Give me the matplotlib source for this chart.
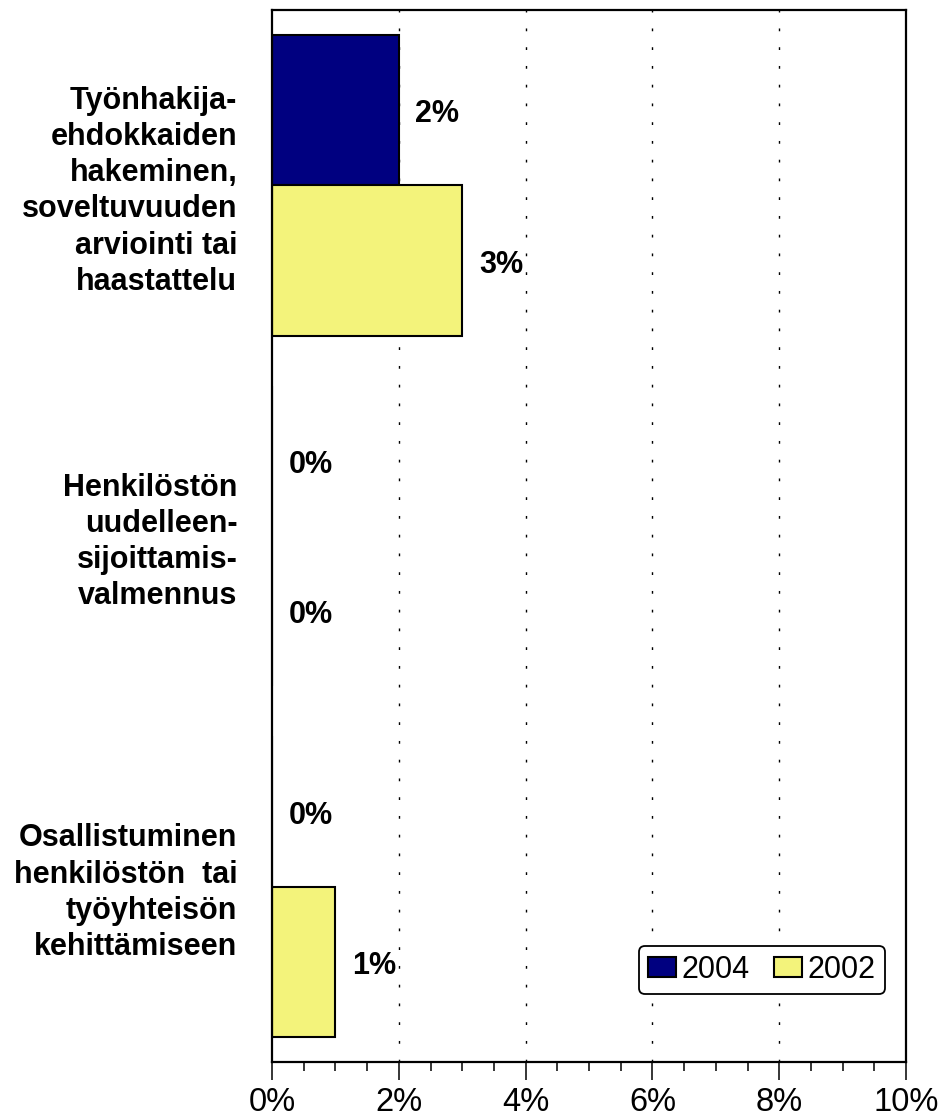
import matplotlib
matplotlib.use("Agg")
import matplotlib.pyplot as plt
import matplotlib.transforms as mtransforms
import numpy as np

plt.rcParams['font.family'] = ['Liberation Sans', 'DejaVu Sans']

# data
categories = [
    "Työnhakija-\nehdokkaiden\nhakeminen,\nsoveltuvuuden\narviointi tai\nhaastattelu",
    "Henkilöstön\nuudelleen-\nsijoittamis-\nvalmennus",
    "Osallistuminen\nhenkilöstön  tai\ntyöyhteisön\nkehittämiseen",
]
series_names = ["2004", "2002"]
values_2004 = [2, 0, 0]
values_2002 = [3, 0, 1]
x_ticks = [0, 2, 4, 6, 8, 10]
x_tick_labels = ["0%", "2%", "4%", "6%", "8%", "10%"]

NAVY = "#000080"
YELLOW = "#F3F37B"

fig = plt.figure(figsize=(9.4, 11.2), dpi=100)
ax = fig.add_axes([272 / 940, 1 - 1062 / 1120, 634 / 940, 1052 / 1120])

y = np.arange(len(categories))
h = 0.4286
b1 = ax.barh(y - h / 2, values_2004, height=h, color=NAVY, edgecolor="black",
             linewidth=1.5, label=series_names[0])
b2 = ax.barh(y + h / 2, values_2002, height=h, color=YELLOW, edgecolor="black",
             linewidth=1.5, label=series_names[1])

# value labels
for bars in (b1, b2):
    texts = ax.bar_label(bars, labels=[f"{v:g}%" for v in bars.datavalues], padding=12,
                         fontsize=22, fontweight="bold")
    for t in texts:
        t.xyann = (12, -3)

ax.set_xlim(0, 10)
ax.set_ylim(2.5, -0.5)

ax.set_xticks(x_ticks)
ax.set_xticklabels(x_tick_labels, fontsize=23.5)
ax.set_xticks(np.arange(0, 10.01, 0.5), minor=True)
ax.tick_params(axis="x", which="major", direction="out", length=13, width=1.1, pad=5)
ax.tick_params(axis="x", which="minor", direction="out", length=6.5, width=1.1)

ax.set_yticks(y)
ax.set_yticklabels(categories, fontsize=22, fontweight="bold", ha="right",
                   va="center", linespacing=1.27)
ax.tick_params(axis="y", length=0, pad=25)
# nudge category labels a little downwards
shift = mtransforms.ScaledTranslation(0, -6 / 100, fig.dpi_scale_trans)
for lbl in ax.get_yticklabels():
    lbl.set_transform(lbl.get_transform() + shift)

# dotted gridlines
for xv in x_ticks[1:-1]:
    ax.axvline(xv, color="black", linewidth=1.0, linestyle=(0, (2, 11.5)), zorder=0)

for s in ax.spines.values():
    s.set_linewidth(1.6)
    s.set_zorder(5)

leg = ax.legend(loc="lower right", bbox_to_anchor=(0.967, 0.0646), ncol=2,
                fontsize=22, frameon=True, fancybox=True, edgecolor="black",
                handlelength=0.9, handleheight=0.65, handletextpad=0.2,
                columnspacing=0.8, borderpad=0.3, borderaxespad=0)
leg.get_frame().set_linewidth(1.3)
leg.get_frame().set_alpha(1)

fig.savefig("out.png", dpi=100)
